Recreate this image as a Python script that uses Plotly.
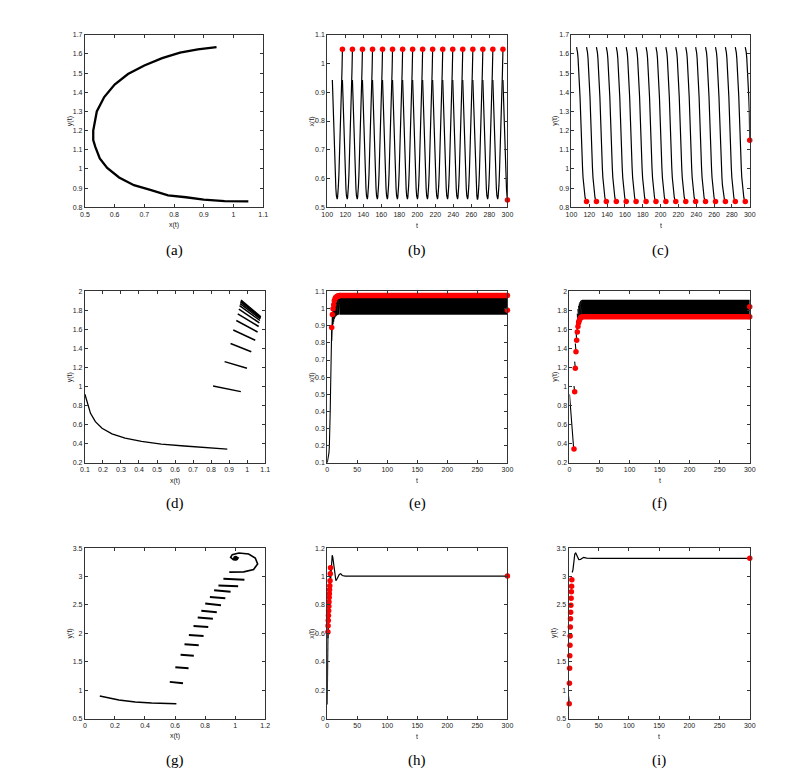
import plotly.graph_objects as go

# ---------------- Row 1 : periodic solution (a)-(c) ----------------
pulse_times_1 = [105.7, 116.9, 128.0, 139.1, 150.3, 161.4, 172.5, 183.7, 194.8,
                 205.9, 217.0, 228.2, 239.3, 250.4, 261.6, 272.7, 283.8, 295.0]
cycle_phase = [0.00, 0.05, 0.10, 0.15, 0.20, 0.25, 0.30, 0.35, 0.40, 0.45, 0.48,
               0.52, 0.56, 0.60, 0.65, 0.70, 0.75, 0.80, 0.85, 0.90, 0.95, 1.00]
cycle_x = [0.943, 0.880, 0.820, 0.760, 0.700, 0.645, 0.600, 0.565, 0.540, 0.528, 0.528,
           0.535, 0.550, 0.575, 0.615, 0.665, 0.720, 0.780, 0.840, 0.900, 0.970, 1.050]
cycle_y = [1.636, 1.624, 1.607, 1.578, 1.540, 1.495, 1.440, 1.375, 1.300, 1.200, 1.150,
           1.115, 1.055, 1.005, 0.955, 0.915, 0.890, 0.862, 0.852, 0.840, 0.832, 0.830]
end1_t, end1_x, end1_y = 300, 0.525, 1.15

# ---------------- Row 2 : (d)-(f) ----------------
init2_t = [0, 0.8, 2.0, 2.9, 3.6, 4.2, 4.6, 5.1, 5.6, 6.2, 6.8, 7.5]
init2_x = [0.100, 0.113, 0.131, 0.158, 0.195, 0.250, 0.323, 0.414, 0.524, 0.652, 0.762, 0.890]
init2_y = [0.920, 0.840, 0.720, 0.633, 0.563, 0.505, 0.460, 0.425, 0.397, 0.377, 0.363, 0.345]
pulse_times_2 = [7.5, 8.6, 9.7, 10.8, 11.9, 13.0, 14.1, 15.2, 16.3, 17.4, 18.5, 19.6, 20.7]
seg2_x_start = [0.811, 0.875, 0.908, 0.923, 0.940, 0.948, 0.954, 0.958, 0.961, 0.963, 0.965, 0.966]
seg2_y_start = [1.007, 1.263, 1.453, 1.595, 1.695, 1.765, 1.815, 1.850, 1.873, 1.890, 1.900, 1.910]
seg2_x_end = [0.965, 0.999, 1.023, 1.045, 1.058, 1.064, 1.068, 1.071, 1.073, 1.074, 1.075, 1.076]
seg2_y_end = [0.948, 1.193, 1.367, 1.488, 1.574, 1.632, 1.670, 1.695, 1.712, 1.722, 1.728, 1.733]
band2_t = [20.7, 300]
band2_x = [0.966, 1.076]   # low / high of the settled oscillation of x
band2_y = [1.733, 1.910]   # low / high of the settled oscillation of y
end2_t, end2_x, end2_y = 300, 0.99, 1.84

# ---------------- Row 3 : (g)-(i) ----------------
init3_t = [0, 0.3, 0.6, 0.9, 1.2]
init3_x = [0.099, 0.226, 0.335, 0.444, 0.609]
init3_y = [0.895, 0.826, 0.790, 0.773, 0.762]
pulse_times_3 = [1.2, 1.5, 1.8, 2.1, 2.4, 2.7, 3.0, 3.3, 3.6, 3.9, 4.3, 4.7, 5.1, 5.5]
seg3_x_start = [0.565, 0.602, 0.637, 0.663, 0.692, 0.723, 0.751, 0.775, 0.801, 0.832, 0.860, 0.889, 0.922]
seg3_y_start = [1.145, 1.401, 1.622, 1.808, 1.971, 2.128, 2.279, 2.395, 2.523, 2.640, 2.756, 2.843, 2.959]
seg3_x_end = [0.653, 0.690, 0.725, 0.758, 0.790, 0.821, 0.852, 0.878, 0.906, 0.935, 0.970, 1.020, 1.062]
seg3_y_end = [1.122, 1.384, 1.605, 1.791, 1.953, 2.110, 2.256, 2.372, 2.494, 2.616, 2.733, 2.826, 2.942]
spiral_t = [5.5, 6.5, 7.4, 8.3, 9.3, 10.4, 12.0, 13.3, 14.5, 17.0, 20.0, 22.5, 25.0, 30.0, 40.0, 300]
spiral_x = [0.961, 1.058, 1.123, 1.150, 1.134, 1.090, 1.025, 0.981, 0.970, 0.988, 1.014, 1.020,
            1.007, 1.003, 1.003, 1.003]
spiral_y = [3.076, 3.081, 3.122, 3.221, 3.326, 3.395, 3.413, 3.384, 3.337, 3.297, 3.302, 3.326,
            3.337, 3.322, 3.320, 3.320]

# ---------------- tick labels ----------------
ticks = {
    'a': ([0.5, 0.6, 0.7, 0.8, 0.9, 1, 1.1], [0.8, 0.9, 1, 1.1, 1.2, 1.3, 1.4, 1.5, 1.6, 1.7]),
    'b': ([100, 120, 140, 160, 180, 200, 220, 240, 260, 280, 300], [0.5, 0.6, 0.7, 0.8, 0.9, 1, 1.1]),
    'c': ([100, 120, 140, 160, 180, 200, 220, 240, 260, 280, 300], [0.8, 0.9, 1, 1.1, 1.2, 1.3, 1.4, 1.5, 1.6, 1.7]),
    'd': ([0.1, 0.2, 0.3, 0.4, 0.5, 0.6, 0.7, 0.8, 0.9, 1, 1.1], [0.2, 0.4, 0.6, 0.8, 1, 1.2, 1.4, 1.6, 1.8, 2]),
    'e': ([0, 50, 100, 150, 200, 250, 300], [0.1, 0.2, 0.3, 0.4, 0.5, 0.6, 0.7, 0.8, 0.9, 1, 1.1]),
    'f': ([0, 50, 100, 150, 200, 250, 300], [0.2, 0.4, 0.6, 0.8, 1, 1.2, 1.4, 1.6, 1.8, 2]),
    'g': ([0, 0.2, 0.4, 0.6, 0.8, 1, 1.2], [0.5, 1, 1.5, 2, 2.5, 3, 3.5]),
    'h': ([0, 50, 100, 150, 200, 250, 300], [0, 0.2, 0.4, 0.6, 0.8, 1, 1.2]),
    'i': ([0, 50, 100, 150, 200, 250, 300], [0.5, 1, 1.5, 2, 2.5, 3, 3.5]),
}
axis_titles = {'a': ('x(t)', 'y(t)'), 'b': ('t', 'x(t)'), 'c': ('t', 'y(t)'),
               'd': ('x(t)', 'y(t)'), 'e': ('t', 'x(t)'), 'f': ('t', 'y(t)'),
               'g': ('x(t)', 'y(t)'), 'h': ('t', 'x(t)'), 'i': ('t', 'y(t)')}

# pixel boxes (left, top, right, bottom) of the nine panels
W, H = 796, 770
boxes = {'a': (72, 23, 253, 197), 'b': (318, 23, 501, 197), 'c': (566, 23, 747, 197),
         'd': (72, 282, 255, 455), 'e': (318, 282, 501, 455), 'f': (564, 282, 747, 455),
         'g': (72, 541, 255, 713), 'h': (318, 541, 501, 713), 'i': (563, 541, 747, 713)}
ytitle_x = {'a': 57, 'b': 303, 'c': 549, 'd': 57, 'e': 303, 'f': 549, 'g': 57, 'h': 303, 'i': 549}

fig = go.Figure()
BLACK = '#000000'
RED = '#ff0000'
order = 'abcdefghi'
ax_of = {p: (i + 1) for i, p in enumerate(order)}


def xy(p):
    n = ax_of[p]
    return ('x' if n == 1 else f'x{n}'), ('y' if n == 1 else f'y{n}')


def line(p, xs, ys, width=1.1, color=BLACK):
    xa, ya = xy(p)
    fig.add_trace(go.Scatter(x=xs, y=ys, mode='lines', xaxis=xa, yaxis=ya,
                             line=dict(color=color, width=width), showlegend=False,
                             hoverinfo='skip'))


def dots(p, xs, ys, color=RED, size=5.5):
    xa, ya = xy(p)
    fig.add_trace(go.Scatter(x=xs, y=ys, mode='markers', xaxis=xa, yaxis=ya,
                             marker=dict(color=color, size=size, line=dict(width=0)),
                             cliponaxis=False, showlegend=False, hoverinfo='skip'))


def periodic_series(pulses, phase, vals, t_end, v_end):
    ts, vs = [], []
    for k in range(len(pulses) - 1):
        t0, t1 = pulses[k], pulses[k + 1]
        ts += [t0 + ph * (t1 - t0) for ph in phase] + [None]
        vs += list(vals) + [None]
    t0 = pulses[-1]
    T = pulses[-1] - pulses[-2]
    for ph, v in zip(phase, vals):
        if t0 + ph * T < t_end:
            ts.append(t0 + ph * T)
            vs.append(v)
    ts.append(t_end)
    vs.append(v_end)
    return ts, vs


def segments(a_start, a_end, b_start, b_end):
    xs, ys = [], []
    for k in range(len(a_start)):
        xs += [a_start[k], a_end[k], None]
        ys += [b_start[k], b_end[k], None]
    return xs, ys


# ---- (a)
line('a', cycle_x, cycle_y, width=2.3)
# ---- (b)
tb, xb = periodic_series(pulse_times_1, cycle_phase, cycle_x, end1_t, end1_x)
line('b', tb, xb, width=1.2)
dots('b', pulse_times_1[1:] + [end1_t], [cycle_x[-1]] * (len(pulse_times_1) - 1) + [end1_x])
# ---- (c)
tc, yc = periodic_series(pulse_times_1, cycle_phase, cycle_y, end1_t, end1_y)
line('c', tc, yc, width=1.2)
dots('c', pulse_times_1[1:] + [end1_t], [cycle_y[-1]] * (len(pulse_times_1) - 1) + [end1_y])

# ---- (d)
line('d', init2_x, init2_y, width=1.3)
sx, sy = segments(seg2_x_start, seg2_x_end, seg2_y_start, seg2_y_end)
line('d', sx, sy, width=1.5)
# ---- (e)
line('e', init2_t, init2_x, width=1.1)
st, sv = segments(pulse_times_2[:-1], pulse_times_2[1:], seg2_x_start, seg2_x_end)
line('e', st, sv, width=1.1)
xa, ya = xy('e')
fig.add_trace(go.Scatter(x=[band2_t[0], band2_t[1], band2_t[1], band2_t[0]],
                         y=[band2_x[0], band2_x[0], band2_x[1], band2_x[1]],
                         xaxis=xa, yaxis=ya, fill='toself', fillcolor=BLACK, mode='lines',
                         line=dict(width=0.5, color=BLACK), showlegend=False, hoverinfo='skip'))
line('e', band2_t, [band2_x[1], band2_x[1]], width=5.5, color=RED)
dots('e', pulse_times_2 + [band2_t[1], end2_t], [init2_x[-1]] + seg2_x_end + [band2_x[1], end2_x])
# ---- (f)
line('f', init2_t, init2_y, width=1.1)
st, sv = segments(pulse_times_2[:-1], pulse_times_2[1:], seg2_y_start, seg2_y_end)
line('f', st, sv, width=1.1)
xa, ya = xy('f')
fig.add_trace(go.Scatter(x=[band2_t[0], band2_t[1], band2_t[1], band2_t[0]],
                         y=[band2_y[0], band2_y[0], band2_y[1], band2_y[1]],
                         xaxis=xa, yaxis=ya, fill='toself', fillcolor=BLACK, mode='lines',
                         line=dict(width=0.5, color=BLACK), showlegend=False, hoverinfo='skip'))
line('f', band2_t, [band2_y[0], band2_y[0]], width=5.5, color=RED)
dots('f', pulse_times_2 + [band2_t[1], end2_t], [init2_y[-1]] + seg2_y_end + [band2_y[0], end2_y])

# ---- (g)
line('g', init3_x, init3_y, width=1.5)
sx, sy = segments(seg3_x_start, seg3_x_end, seg3_y_start, seg3_y_end)
line('g', sx, sy, width=2.0)
line('g', spiral_x, spiral_y, width=1.6)
dots('g', [spiral_x[-1]], [spiral_y[-1]], color=BLACK, size=5)
# ---- (h)
line('h', init3_t, init3_x, width=1.2)
st, sv = segments(pulse_times_3[:-1], pulse_times_3[1:], seg3_x_start, seg3_x_end)
line('h', st, sv, width=1.2)
line('h', spiral_t, spiral_x, width=1.2)
dots('h', pulse_times_3 + [spiral_t[-1]], [init3_x[-1]] + seg3_x_end + [spiral_x[-1]])
# ---- (i)
line('i', init3_t, init3_y, width=1.2)
st, sv = segments(pulse_times_3[:-1], pulse_times_3[1:], seg3_y_start, seg3_y_end)
line('i', st, sv, width=1.2)
line('i', spiral_t, spiral_y, width=1.2)
dots('i', pulse_times_3 + [spiral_t[-1]], [init3_y[-1]] + seg3_y_end + [spiral_y[-1]])

# ---------------- axes ----------------
TICKFONT = dict(family='Liberation Sans, Arial, sans-serif', size=7, color='#222222')
layout = dict(width=W, height=H, margin=dict(l=0, r=0, t=0, b=0),
              paper_bgcolor='white', plot_bgcolor='white', showlegend=False)
annotations = []
for p in order:
    n = ax_of[p]
    l, t, r, b = boxes[p]
    xv, yv = ticks[p]
    common = dict(showgrid=False, zeroline=False, showline=True, linecolor='#333333',
                  linewidth=1, mirror='ticks', ticks='inside', ticklen=3, tickwidth=1,
                  tickcolor='#333333', tickfont=TICKFONT)
    xkey = 'xaxis' if n == 1 else f'xaxis{n}'
    ykey = 'yaxis' if n == 1 else f'yaxis{n}'
    layout[xkey] = dict(domain=[l / W, r / W], range=[xv[0], xv[-1]], tickvals=xv,
                        ticktext=[f'{v:g}' for v in xv], anchor=('y' if n == 1 else f'y{n}'),
                        **common)
    layout[ykey] = dict(domain=[1 - b / H, 1 - t / H], range=[yv[0], yv[-1]], tickvals=yv,
                        ticktext=[f'{v:g}' for v in yv], anchor=('x' if n == 1 else f'x{n}'),
                        **common)
    xt, yt = axis_titles[p]
    annotations.append(dict(text=xt, x=(l + r) / 2 / W, y=1 - (b + 18) / H, xref='paper',
                            yref='paper', showarrow=False, xanchor='center', yanchor='middle',
                            font=dict(family='Liberation Sans, Arial, sans-serif', size=7, color='#222')))
    annotations.append(dict(text=yt, x=ytitle_x[p] / W, y=1 - (t + b) / 2 / H, xref='paper',
                            yref='paper', showarrow=False, xanchor='center', yanchor='middle',
                            textangle=-90,
                            font=dict(family='Liberation Sans, Arial, sans-serif', size=7, color='#222')))
    cy = {'a': 241, 'b': 241, 'c': 241, 'd': 496, 'e': 496, 'f': 496, 'g': 755, 'h': 755, 'i': 755}[p]
    annotations.append(dict(text=f'({p})', x=(l + r) / 2 / W, y=1 - cy / H, xref='paper',
                            yref='paper', showarrow=False, xanchor='center', yanchor='middle',
                            font=dict(family='Liberation Serif, Times New Roman, serif', size=15, color='black')))
layout['annotations'] = annotations
fig.update_layout(**layout)
fig.write_html('out.html')
